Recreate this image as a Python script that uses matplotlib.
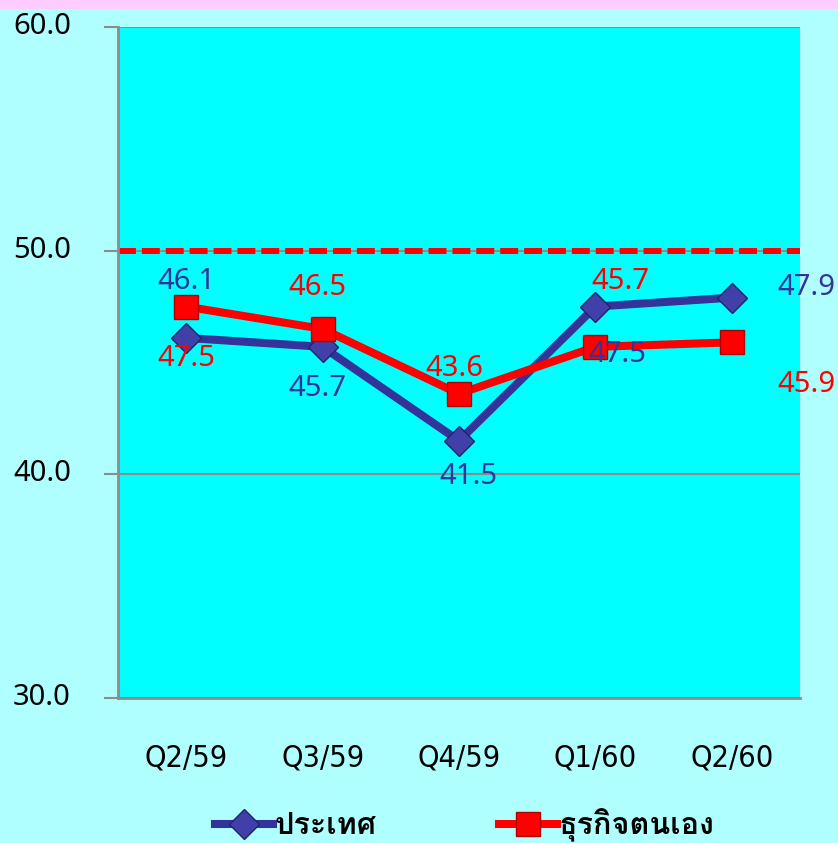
import os
import matplotlib
matplotlib.use("Agg")
import matplotlib.pyplot as plt
import matplotlib.font_manager as fm
from matplotlib.ft2font import FT2Font
from matplotlib.patches import Rectangle
from matplotlib.transforms import ScaledTranslation

# Data
quarters = ["Q2/59", "Q3/59", "Q4/59", "Q1/60", "Q2/60"]
country = [46.1, 45.7, 41.5, 47.5, 47.9]      # ประเทศ
own_biz = [47.5, 46.5, 43.6, 45.7, 45.9]      # ธุรกิจตนเอง
series_names = ["ประเทศ", "ธุรกิจตนเอง"]
y_ticks = [30, 40, 50, 60]
base_line = 50

# label offsets in pixels (dx, dy)
country_off = [(0, 56), (-5, -42), (9, -36), (22, -48), (75, 10)]
own_off = [(0, -52), (-5, 41), (-5, 25), (25, 65), (75, -42)]


# find an installed font that can draw Thai
def find_thai_font():
    names = []
    for f in fm.fontManager.ttflist:
        try:
            if 0x0E1B in FT2Font(f.fname).get_charmap():
                names.append(f.name)
        except Exception:
            pass
    return names[0] if names else None


# a narrow, light font for the quarter labels
def find_narrow_font():
    wanted = ["DejaVuSansCondensed.ttf", "LiberationSansNarrow-Regular.ttf",
              "RobotoCondensed-Light.ttf", "RobotoCondensed-Regular.ttf",
              "OpenSans_Condensed-Regular.ttf", "OpenSansCondensed-Light.ttf"]
    files = {os.path.basename(f.fname): f.fname for f in fm.fontManager.ttflist}
    for w in wanted:
        if w in files:
            return fm.FontProperties(fname=files[w]), w
    return None, None


thai = find_thai_font()
legend_family = [thai, "DejaVu Sans"] if thai else ["DejaVu Sans"]
num_font = "Noto Sans"
narrow, narrow_file = find_narrow_font()

BLUE = "#333399"
RED = "#FF0000"
GREY = "#8C8C8C"

fig = plt.figure(figsize=(8.38, 8.43), dpi=100, facecolor="#B0FFFF")
fig.patches.append(Rectangle((0, 1 - 9 / 843), 1, 9 / 843, transform=fig.transFigure,
                             facecolor="#FFCCFF", edgecolor="none"))

ax = fig.add_axes([118 / 838, 145 / 843, 682 / 838, 671 / 843])
ax.set_facecolor("#00FFFF")

x = list(range(len(quarters)))
ax.plot(x, country, color=BLUE, lw=5.8, marker="D", markersize=15,
        markerfacecolor="#4040A8", markeredgecolor="#22226A", markeredgewidth=1,
        label=series_names[0], zorder=3, solid_joinstyle="round")
ax.plot(x, own_biz, color=RED, lw=5.8, marker="s", markersize=17.5,
        markerfacecolor=RED, markeredgecolor="#B00000", markeredgewidth=1,
        label=series_names[1], zorder=4, solid_joinstyle="round")

ax.axhline(base_line, color=RED, lw=4.3, dashes=(3.0, 1.0), zorder=2)

for i, v in enumerate(country):
    ax.annotate(f"{v:.1f}", (i, v), xytext=country_off[i], textcoords="offset pixels",
                ha="center", va="center", fontsize=21, color=BLUE, zorder=6,
                family=num_font, annotation_clip=False)
for i, v in enumerate(own_biz):
    ax.annotate(f"{v:.1f}", (i, v), xytext=own_off[i], textcoords="offset pixels",
                ha="center", va="center", fontsize=21, color=RED, zorder=6,
                family=num_font, annotation_clip=False)

ax.set_xlim(-0.5, len(quarters) - 0.5)
ax.set_ylim(30, 60)
ax.set_yticks(y_ticks)
ax.set_yticklabels([f"{t:.1f}" for t in y_ticks], family=num_font)
ax.set_xticks(x)
if narrow is not None:
    ax.set_xticklabels(quarters, fontproperties=narrow)
    cat_size = 22 if narrow_file.startswith("DejaVu") else 24
else:
    ax.set_xticklabels(quarters, family=num_font)
    cat_size = 19

ax.yaxis.grid(True, color=GREY, lw=1.5, zorder=1)
ax.set_axisbelow(True)
for s in ["top", "right"]:
    ax.spines[s].set_visible(False)
for s in ["left", "bottom"]:
    ax.spines[s].set_color(GREY)
    ax.spines[s].set_linewidth(2)

ax.tick_params(axis="y", length=10, width=1.5, color=GREY, pad=24, labelsize=21,
               labelcolor="black")
ax.tick_params(axis="x", length=0, pad=33, labelsize=cat_size, labelcolor="black")
for lab in ax.get_yticklabels():
    lab.set_transform(lab.get_transform() + ScaledTranslation(0, 4 / 100, fig.dpi_scale_trans))

leg = fig.legend(loc="center", bbox_to_anchor=(0.555, 0.021), ncol=2, frameon=False,
                 handlelength=1.9, handletextpad=0.05, columnspacing=4.0,
                 prop={"family": legend_family, "size": 22, "weight": "bold"})

fig.savefig("out.png", dpi=100, facecolor=fig.get_facecolor())
